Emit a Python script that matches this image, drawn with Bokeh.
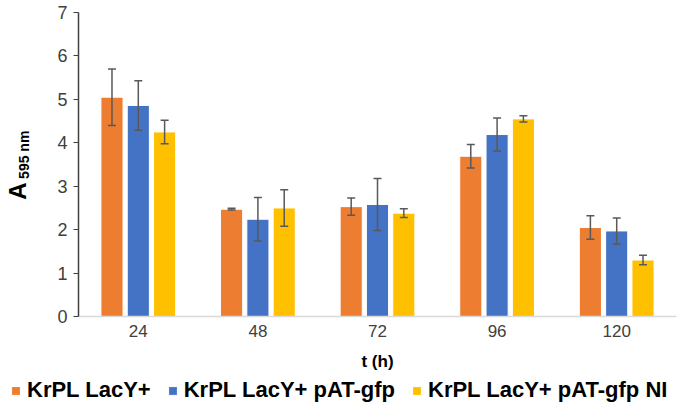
from bokeh.plotting import figure
from bokeh.layouts import column
from bokeh.models import (ColumnDataSource, FactorRange, Whisker, Legend, LegendItem, TeeHead,
                          LinearAxis, FixedTicker)
from bokeh.transform import dodge
from bokeh.embed import file_html
from bokeh.resources import INLINE

times = ["24", "48", "72", "96", "120"]
series_names = ["KrPL LacY+", "KrPL LacY+ pAT-gfp", "KrPL LacY+ pAT-gfp NI"]
lacy = [5.05, 2.47, 2.53, 3.69, 2.05]
lacy_err = [0.65, 0.02, 0.20, 0.27, 0.27]
gfp = [4.86, 2.24, 2.58, 4.19, 1.97]
gfp_err = [0.57, 0.50, 0.60, 0.38, 0.30]
gfp_ni = [4.25, 2.50, 2.38, 4.55, 1.30]
gfp_ni_err = [0.27, 0.42, 0.10, 0.07, 0.11]
colors = ["#ED7D31", "#4472C4", "#FFC000"]
y_ticks = [0, 1, 2, 3, 4, 5, 6, 7]

FONT = "Liberation Sans"
NB = "\u00a0"

p = figure(x_range=FactorRange(factors=times), y_range=(0, 7),
           frame_width=598, frame_height=304, output_backend="svg", toolbar_location=None,
           min_border_left=77, min_border_right=2, min_border_top=12, min_border_bottom=59)
p.outline_line_color = None
p.xgrid.grid_line_color = None
p.ygrid.grid_line_color = None

offsets = [-0.22, 0.0, 0.22]
vals = [lacy, gfp, gfp_ni]
errs = [lacy_err, gfp_err, gfp_ni_err]
for i in range(3):
    src = ColumnDataSource(dict(t=times, v=vals[i],
                                lo=[a - b for a, b in zip(vals[i], errs[i])],
                                hi=[a + b for a, b in zip(vals[i], errs[i])]))
    p.vbar(x=dodge("t", offsets[i], range=p.x_range), top="v", width=0.185, source=src,
           fill_color=colors[i], line_color="white", line_width=1)
    w = Whisker(base=dodge("t", offsets[i], range=p.x_range), upper="hi", lower="lo", source=src,
                line_color="#595959", line_width=1.5, level="overlay",
                upper_head=TeeHead(size=8, line_color="#595959", line_width=1.5),
                lower_head=TeeHead(size=8, line_color="#595959", line_width=1.5))
    p.add_layout(w)

# y axis (inner): ticks, tick labels and the subscript part of the title
yax = p.left[0]
yax.ticker = FixedTicker(ticks=y_ticks)
yax.axis_line_color = "#404040"
yax.axis_line_width = 1.5
yax.major_tick_line_color = "#404040"
yax.major_tick_out = 5
yax.major_tick_in = 0
yax.minor_tick_line_color = None
yax.major_label_text_font = FONT
yax.major_label_text_font_size = "18px"
yax.major_label_text_color = "#404040"
yax.major_label_standoff = 6
yax.axis_label = NB * 5 + "595 nm"
yax.axis_label_text_font = FONT
yax.axis_label_text_font_style = "bold"
yax.axis_label_text_font_size = "14px"
yax.axis_label_text_color = "#000000"
yax.axis_label_standoff = 22

# outer axis carrying only the big "A"
ax_a = LinearAxis(ticker=FixedTicker(ticks=[]), axis_line_color=None,
                  major_tick_out=0, major_tick_in=0, minor_tick_out=0, minor_tick_in=0,
                  major_label_text_font_size="0px",
                  axis_label="A" + NB * 8, axis_label_text_font=FONT,
                  axis_label_text_font_style="bold", axis_label_text_font_size="24px",
                  axis_label_text_color="#000000", axis_label_standoff=-17)
p.add_layout(ax_a, "left")

# x axis
xax = p.below[0]
xax.axis_line_color = "#D9D9D9"
xax.axis_line_width = 1.5
xax.major_tick_line_color = None
xax.major_tick_out = 0
xax.major_tick_in = 0
xax.minor_tick_line_color = None
xax.major_label_text_font = FONT
xax.major_label_text_font_size = "17px"
xax.major_label_text_color = "#404040"
xax.major_label_standoff = 8
xax.axis_label = "t (h)"
xax.axis_label_text_font = FONT
xax.axis_label_text_font_style = "bold"
xax.axis_label_text_font_size = "17px"
xax.axis_label_text_color = "#000000"
xax.axis_label_standoff = 12

# legend strip below the chart (its own small canvas spanning the full width)
lg = figure(width=677, height=40, x_range=(0, 1), y_range=(0, 1), output_backend="svg",
            toolbar_location=None, x_axis_type=None, y_axis_type=None, min_border=0)
lg.outline_line_color = None
lg.xgrid.grid_line_color = None
lg.ygrid.grid_line_color = None
for fig in (p, lg):
    try:
        fig.frame_align = False
    except Exception:
        pass
items = []
for i in range(3):
    key = ColumnDataSource(dict(x=[0.5], top=[0.0]))
    r = lg.vbar(x="x", top="top", width=0.0, source=key,
                fill_color=colors[i], line_color="white", line_width=1)
    items.append(LegendItem(label=series_names[i], renderers=[r]))
legend = Legend(items=items, orientation="horizontal", location=(10, 12),
                label_text_font=FONT, label_text_font_style="bold", label_text_font_size="22px",
                label_text_color="#000000", glyph_width=11, glyph_height=11, label_height=22,
                spacing=16, label_standoff=6, padding=0, margin=0, border_line_color=None,
                background_fill_alpha=0)
lg.add_layout(legend)

layout = column(p, lg, spacing=0)
open("out.html", "w").write(file_html(layout, INLINE))
